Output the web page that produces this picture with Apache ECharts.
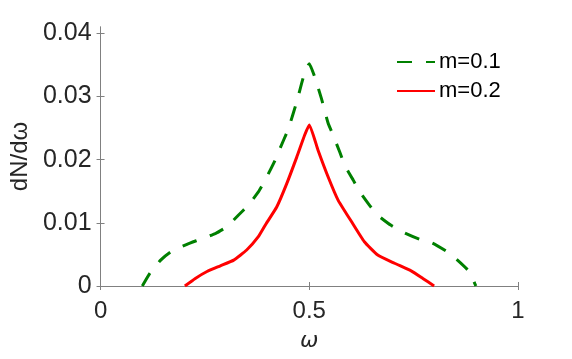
<!DOCTYPE html>
<html lang="en">
<head>
  <meta charset="UTF-8">
  <title>dN/dω</title>
  <script src="https://cdn.jsdelivr.net/npm/echarts@6/dist/echarts.min.js"></script>
  <style type="text/css">
    html, body { margin: 0; padding: 0; background: #fff; }
    #main { width: 572px; height: 359px; }
  </style>
</head>
<body>
  <div id="main"></div>

  <script type="text/javascript">
    // m=0.1 (green dashed)
    var omegaM1 = [0.100, 0.118, 0.144, 0.168, 0.207, 0.235, 0.275, 0.303, 0.330, 0.354, 0.378, 0.396, 0.418, 0.430, 0.450, 0.471, 0.486, 0.500,
                   0.513, 0.529, 0.545, 0.557, 0.573, 0.585, 0.605, 0.621, 0.644, 0.664, 0.696, 0.728, 0.764, 0.795, 0.831, 0.855, 0.883, 0.899];
    var dndwM1  = [0, 0.0020, 0.0041, 0.0054, 0.0066, 0.0073, 0.0083, 0.0094, 0.0112, 0.0128, 0.0149, 0.0170, 0.0199, 0.0218, 0.0249, 0.0294, 0.0331, 0.0352,
                   0.0331, 0.0297, 0.0258, 0.0239, 0.0212, 0.0191, 0.0168, 0.0149, 0.0128, 0.0112, 0.0096, 0.0084, 0.0074, 0.0068, 0.0054, 0.0041, 0.0023, 0];
    // m=0.2 (red solid)
    var omegaM2 = [0.202, 0.227, 0.255, 0.287, 0.319, 0.350, 0.378, 0.397, 0.422, 0.446, 0.470, 0.489, 0.500,
                   0.521, 0.545, 0.569, 0.601, 0.632, 0.664, 0.704, 0.744, 0.772, 0.799];
    var dndwM2  = [0, 0.0012, 0.0023, 0.0032, 0.0041, 0.0057, 0.0078, 0.0099, 0.0125, 0.0162, 0.0204, 0.0239, 0.0255,
                   0.0215, 0.0173, 0.0136, 0.0102, 0.0070, 0.0049, 0.0036, 0.0024, 0.0012, 0];

    var xTicks = [0, 0.5, 1];
    var yTicks = [0, 0.01, 0.02, 0.03, 0.04];
    var seriesNames = ['m=0.1', 'm=0.2'];

    function pairs(xs, ys) {
      var out = [];
      for (var i = 0; i < xs.length; i++) out.push([xs[i], ys[i]]);
      return out;
    }

    var axisColor = '#808080';
    var textColor = '#262626';
    var font = 'Liberation Sans';

    var myChart = echarts.init(document.getElementById('main'), null, { renderer: 'canvas' });

    var option = {
      animation: false,
      backgroundColor: '#fff',
      grid: { left: 98, right: 54, top: 27, bottom: 73 },
      legend: {
        orient: 'vertical',
        left: 396,
        top: 51,
        padding: 0,
        itemWidth: 38,
        itemHeight: 14,
        itemGap: 7,
        itemStyle: { opacity: 0 },
        data: seriesNames,
        textStyle: { fontFamily: font, fontSize: 22, color: '#000', padding: [0, 0, 0, -1] }
      },
      xAxis: [{
        type: 'value', min: 0, max: 1, interval: 0.5,
        name: 'ω', nameLocation: 'middle', nameGap: 44,
        nameTextStyle: { fontFamily: 'DejaVu Sans', fontStyle: 'italic', fontSize: 22, color: textColor },
        axisLine: { show: true, lineStyle: { color: axisColor, width: 1 } },
        axisTick: { show: true, inside: true, length: 4, customValues: xTicks, lineStyle: { color: axisColor } },
        axisLabel: { fontFamily: font, fontSize: 24, color: textColor, margin: 13, customValues: xTicks },
        splitLine: { show: false }
      }, {
        type: 'value', min: 0, max: 1, interval: 0.5, position: 'top',
        axisLine: { show: true, lineStyle: { color: axisColor, width: 1 } },
        axisTick: { show: true, inside: true, length: 4, customValues: xTicks, lineStyle: { color: axisColor } },
        axisLabel: { show: false },
        splitLine: { show: false }
      }],
      yAxis: [{
        type: 'value', min: 0, max: 0.041, interval: 0.01,
        name: 'dN/dω', nameLocation: 'middle', nameGap: 66,
        nameTextStyle: { fontFamily: font, fontSize: 24, color: textColor },
        axisLine: { show: true, lineStyle: { color: axisColor, width: 1 } },
        axisTick: { show: true, inside: true, length: 4, customValues: yTicks, lineStyle: { color: axisColor } },
        axisLabel: { fontFamily: font, fontSize: 25, color: textColor, margin: 9, customValues: yTicks },
        splitLine: { show: false }
      }, {
        type: 'value', min: 0, max: 0.041, interval: 0.01, position: 'right',
        axisLine: { show: true, lineStyle: { color: axisColor, width: 1 } },
        axisTick: { show: true, inside: true, length: 4, customValues: yTicks, lineStyle: { color: axisColor } },
        axisLabel: { show: false },
        splitLine: { show: false }
      }],
      series: [{
        name: seriesNames[0],
        type: 'line',
        smooth: 0.15,
        showSymbol: false,
        symbol: 'none',
        color: '#008000',
        lineStyle: { color: '#008000', width: 3, type: [15, 14] },
        data: pairs(omegaM1, dndwM1)
      }, {
        name: seriesNames[1],
        type: 'line',
        smooth: 0.15,
        showSymbol: false,
        symbol: 'none',
        color: '#ff0000',
        lineStyle: { color: '#ff0000', width: 3, type: 'solid' },
        data: pairs(omegaM2, dndwM2)
      }]
    };

    myChart.setOption(option);
  </script>
</body>
</html>
